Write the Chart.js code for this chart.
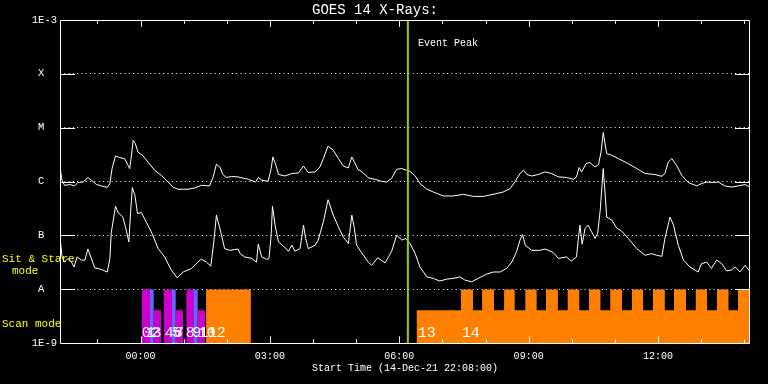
<!DOCTYPE html>
<html>
<head>
<meta charset="utf-8">
<title>GOES 14 X-Rays</title>
<script src="https://cdn.jsdelivr.net/npm/chart.js@4.4.1/dist/chart.umd.min.js"></script>
<style>
  html, body { margin: 0; padding: 0; background: #000; }
  canvas { display: block; background: #000; }
</style>
</head>
<body>
<canvas id="goesChart" width="768" height="384"></canvas>
<script>
// time axis is in hours from 00:00 on 15-Dec-21 (plot starts 22:08 on the 14th)
const xMin = -1.8667;
const xMax = 14.1333;
const yMin = 1e-9;
const yMax = 1e-3;

const decadeValues = [1e-9, 1e-8, 1e-7, 1e-6, 1e-5, 1e-4, 1e-3];
const decadeNames = ['1E-9', 'A', 'B', 'C', 'M', 'X', '1E-3'];

const timeLabelHours = [0, 3, 6, 9, 12];
const timeLabels = ['00:00', '03:00', '06:00', '09:00', '12:00'];

const eventPeak = 6.2;

// 1-8 A channel
const longTimes = [-1.85, -1.82, -1.76, -1.64, -1.53, -1.45, -1.33, -1.22, -1.14, -1.02, -0.91, -0.77, -0.71, -0.66, -0.58, -0.48, -0.37, -0.25, -0.20, -0.17, -0.12, -0.06, 0.06, 0.17, 0.33, 0.48, 0.64, 0.75, 0.87, 1.10, 1.26, 1.41, 1.60, 1.68, 1.76, 1.84, 1.91, 1.99, 2.11, 2.26, 2.35, 2.50, 2.67, 2.73, 2.81, 2.96, 3.03, 3.07, 3.14, 3.20, 3.35, 3.51, 3.66, 3.78, 3.89, 4.05, 4.16, 4.24, 4.35, 4.47, 4.59, 4.70, 4.82, 4.90, 4.96, 5.04, 5.17, 5.28, 5.44, 5.59, 5.71, 5.82, 5.94, 6.06, 6.17, 6.25, 6.37, 6.48, 6.64, 6.79, 7.02, 7.25, 7.49, 7.72, 7.95, 8.18, 8.41, 8.57, 8.68, 8.80, 8.88, 8.96, 9.07, 9.22, 9.38, 9.53, 9.69, 9.88, 10.04, 10.11, 10.17, 10.23, 10.33, 10.42, 10.54, 10.62, 10.68, 10.73, 10.81, 10.93, 11.08, 11.31, 11.51, 11.70, 11.93, 12.09, 12.16, 12.24, 12.32, 12.43, 12.55, 12.70, 12.90, 13.01, 13.13, 13.28, 13.40, 13.55, 13.71, 13.86, 14.02, 14.13];
const longFlux = [1.51e-6, 1.06e-6, 8.5e-7, 8.8e-7, 8.3e-7, 9.6e-7, 9.8e-7, 1.19e-6, 1.06e-6, 8.8e-7, 8.3e-7, 7.8e-7, 9.2e-7, 1.74e-6, 2.98e-6, 2.78e-6, 2.67e-6, 1.74e-6, 3.53e-6, 5.82e-6, 5.06e-6, 3.53e-6, 2.98e-6, 2.31e-6, 1.62e-6, 1.31e-6, 9.8e-7, 7.9e-7, 7.2e-7, 7.2e-7, 7.6e-7, 8.5e-7, 8.3e-7, 1.17e-6, 2.09e-6, 1.86e-6, 1.35e-6, 1.19e-6, 1.24e-6, 1.22e-6, 1.17e-6, 1.10e-6, 9.8e-7, 1.19e-6, 1.06e-6, 1.01e-6, 1.74e-6, 2.86e-6, 2.0e-6, 1.35e-6, 1.27e-6, 1.41e-6, 1.44e-6, 1.94e-6, 1.47e-6, 1.51e-6, 1.86e-6, 2.67e-6, 4.56e-6, 3.8e-6, 2.67e-6, 1.94e-6, 1.79e-6, 2.86e-6, 2.31e-6, 1.69e-6, 1.44e-6, 1.17e-6, 1.10e-6, 1.01e-6, 9.8e-7, 1.14e-6, 1.69e-6, 1.74e-6, 1.62e-6, 1.55e-6, 1.27e-6, 9.2e-7, 7.2e-7, 6.4e-7, 5.4e-7, 5.4e-7, 5.8e-7, 5.3e-7, 5.3e-7, 5.8e-7, 6.4e-7, 7.4e-7, 9.8e-7, 1.41e-6, 1.62e-6, 1.35e-6, 1.27e-6, 1.35e-6, 1.51e-6, 1.41e-6, 1.22e-6, 1.19e-6, 1.10e-6, 1.22e-6, 1.82e-6, 1.51e-6, 2.15e-6, 2.25e-6, 1.86e-6, 2.06e-6, 3.53e-6, 8.1e-6, 3.3e-6, 3.07e-6, 2.67e-6, 2.15e-6, 1.74e-6, 1.41e-6, 1.35e-6, 1.25e-6, 1.41e-6, 2.31e-6, 2.67e-6, 2.0e-6, 1.31e-6, 9.6e-7, 8.3e-7, 9.2e-7, 9.8e-7, 9.6e-7, 9.8e-7, 8.3e-7, 7.9e-7, 8.3e-7, 8.8e-7, 7.9e-7];

// 0.5-4 A channel
const shortTimes = [-1.85, -1.82, -1.76, -1.68, -1.60, -1.54, -1.47, -1.37, -1.29, -1.22, -1.14, -1.06, -0.91, -0.77, -0.71, -0.68, -0.58, -0.52, -0.41, -0.33, -0.27, -0.23, -0.19, -0.13, -0.07, 0.02, 0.13, 0.25, 0.41, 0.56, 0.71, 0.85, 0.99, 1.18, 1.33, 1.41, 1.53, 1.63, 1.70, 1.76, 1.87, 1.95, 2.07, 2.26, 2.31, 2.42, 2.58, 2.69, 2.73, 2.81, 2.93, 2.98, 3.03, 3.06, 3.12, 3.20, 3.31, 3.43, 3.51, 3.58, 3.70, 3.78, 3.83, 3.89, 4.05, 4.12, 4.24, 4.35, 4.47, 4.59, 4.70, 4.82, 4.90, 4.96, 5.01, 5.17, 5.28, 5.36, 5.50, 5.67, 5.82, 5.94, 6.06, 6.15, 6.25, 6.37, 6.48, 6.64, 6.79, 6.94, 7.10, 7.25, 7.41, 7.52, 7.68, 7.83, 8.03, 8.18, 8.34, 8.49, 8.61, 8.72, 8.80, 8.86, 8.92, 9.07, 9.26, 9.38, 9.57, 9.69, 9.88, 9.99, 10.11, 10.15, 10.19, 10.24, 10.31, 10.38, 10.46, 10.54, 10.60, 10.66, 10.73, 10.77, 10.81, 10.93, 11.04, 11.16, 11.31, 11.51, 11.70, 11.85, 11.97, 12.09, 12.16, 12.28, 12.36, 12.47, 12.59, 12.74, 12.93, 13.01, 13.13, 13.24, 13.36, 13.48, 13.59, 13.71, 13.79, 13.90, 14.02, 14.12];
const shortFlux = [7.1e-8, 4.0e-8, 3.2e-8, 3.75e-8, 3.2e-8, 2.6e-8, 4.0e-8, 3.5e-8, 3.5e-8, 5.6e-8, 3.75e-8, 2.5e-8, 2.35e-8, 2.1e-8, 3.75e-8, 1.09e-7, 3.5e-7, 2.67e-7, 2.2e-7, 1.25e-7, 7.6e-8, 2.7e-7, 7.7e-7, 5.6e-7, 2.55e-7, 2.67e-7, 1.79e-7, 1.17e-7, 5.7e-8, 4.0e-8, 2.3e-8, 1.64e-8, 2.1e-8, 2.45e-8, 3.2e-8, 3.65e-8, 3.2e-8, 2.7e-8, 7.6e-8, 2.38e-7, 1.09e-7, 5.7e-8, 5.3e-8, 5.6e-8, 4.6e-8, 4.0e-8, 3.75e-8, 3.2e-8, 6.9e-8, 4.0e-8, 3.6e-8, 3.75e-8, 1.01e-7, 3.5e-7, 1.55e-7, 7.6e-8, 6.4e-8, 5.1e-8, 6.6e-8, 5.1e-8, 5.7e-8, 1.55e-7, 8.8e-8, 5.7e-8, 6.6e-8, 8.2e-8, 1.79e-7, 4.6e-7, 2.38e-7, 1.44e-7, 9.4e-8, 7.1e-8, 2.38e-7, 1.35e-7, 6.6e-8, 4.3e-8, 3.2e-8, 2.8e-8, 3.85e-8, 3.1e-8, 5.0e-8, 1.01e-7, 8.2e-8, 8.8e-8, 7.1e-8, 4.6e-8, 2.6e-8, 1.71e-8, 1.6e-8, 1.43e-8, 1.55e-8, 1.6e-8, 1.71e-8, 1.49e-8, 1.38e-8, 1.6e-8, 1.92e-8, 2.1e-8, 2.1e-8, 2.45e-8, 3.2e-8, 5.0e-8, 8.2e-8, 1.04e-7, 6.6e-8, 5.3e-8, 5.3e-8, 5.6e-8, 4.85e-8, 3.75e-8, 4.0e-8, 3.35e-8, 4.0e-8, 8.2e-8, 1.55e-7, 6.9e-8, 1.35e-7, 1.55e-7, 1.17e-7, 8.8e-8, 1.09e-7, 2.94e-7, 1.74e-6, 6.4e-7, 2.2e-7, 1.92e-7, 1.38e-7, 1.2e-7, 8.8e-8, 5.7e-8, 4.3e-8, 4.6e-8, 4.3e-8, 4.1e-8, 8.8e-8, 2.2e-7, 1.55e-7, 6.6e-8, 3.5e-8, 2.6e-8, 2.1e-8, 3.0e-8, 3.2e-8, 2.45e-8, 3.5e-8, 3.0e-8, 2.2e-8, 2.3e-8, 2.6e-8, 2.1e-8, 2.8e-8, 2.2e-8];

// observation blocks at the bottom: start, end, top level, kind
const blockStart = [0.03, 0.22, 0.30, 0.54, 0.73, 0.81, 1.06, 1.23, 1.32, 1.52, 6.40, 7.43, 7.92, 8.43, 8.92, 9.40, 9.90, 10.40, 10.89, 11.39, 11.88, 12.37, 12.87, 13.36, 13.85];
const blockEnd = [0.24, 0.31, 0.48, 0.74, 0.82, 0.99, 1.24, 1.33, 1.50, 2.56, 14.39, 7.71, 8.20, 8.68, 9.19, 9.68, 10.18, 10.67, 11.17, 11.66, 12.16, 12.65, 13.14, 13.64, 14.13];
const blockTop = [1e-8, 1e-8, 4.1e-9, 1e-8, 1e-8, 4.1e-9, 1e-8, 1e-8, 4.1e-9, 1e-8, 4.1e-9, 1e-8, 1e-8, 1e-8, 1e-8, 1e-8, 1e-8, 1e-8, 1e-8, 1e-8, 1e-8, 1e-8, 1e-8, 1e-8, 1e-8];
const blockKind = ['m', 'b', 'm', 'm', 'b', 'm', 'm', 'b', 'm', 'o', 'o', 'o', 'o', 'o', 'o', 'o', 'o', 'o', 'o', 'o', 'o', 'o', 'o', 'o', 'o'];

const scanIds = ['0', '1', '2', '3', '4', '5', '6', '7', '8', '9', '10', '11', '12', '13', '14'];
const scanTimes = [0.03, 0.13, 0.24, 0.28, 0.56, 0.73, 0.77, 0.80, 1.05, 1.20, 1.33, 1.36, 1.56, 6.43, 7.45];

const kindColors = { m: '#cc00cc', b: '#6464ff', o: '#ff8000' };
const monoFont = 'Liberation Mono';

const hourTicks = [];
for (let h = -1; h <= 14; h++) hourTicks.push(h);

const zip = (xs, ys) => xs.map((x, i) => ({ x: x, y: ys[i] }));

const blockSets = blockStart.map((s, i) => ({
  data: [{ x: s, y: blockTop[i] }, { x: blockEnd[i], y: blockTop[i] }],
  borderWidth: 0,
  backgroundColor: kindColors[blockKind[i]],
  fill: { value: yMin },
  pointRadius: 0,
  order: 100 - i
}));

const decorations = {
  id: 'decorations',
  afterDatasetsDraw(chart) {
    const { ctx, chartArea: a, scales: { x, y } } = chart;
    ctx.save();
    ctx.strokeStyle = '#fff';
    ctx.lineWidth = 1;
    ctx.beginPath();
    // plot box
    ctx.rect(Math.round(a.left) + 0.5, Math.round(a.top) + 0.5, Math.round(a.right - a.left) - 1, Math.round(a.bottom - a.top) - 1);
    // inner tick marks on the flux axis
    decadeValues.slice(1, -1).forEach(v => {
      const py = Math.round(y.getPixelForValue(v)) + 0.5;
      ctx.moveTo(a.left, py); ctx.lineTo(a.left + 15, py);
      ctx.moveTo(a.right - 15, py); ctx.lineTo(a.right, py);
    });
    // inner tick marks on the time axis
    hourTicks.forEach(h => {
      const px = Math.round(x.getPixelForValue(h)) + 0.5;
      const len = h % 3 === 0 ? 7 : 4;
      ctx.moveTo(px, a.bottom); ctx.lineTo(px, a.bottom - len);
      ctx.moveTo(px, a.top); ctx.lineTo(px, a.top + len);
    });
    ctx.stroke();

    ctx.textBaseline = 'middle';
    ctx.textAlign = 'left';
    ctx.fillStyle = '#fff';
    ctx.font = '10px "' + monoFont + '"';
    ctx.fillText('Event Peak', x.getPixelForValue(eventPeak) + 10, 43);

    ctx.fillStyle = '#ffff00';
    ctx.font = '11px "' + monoFont + '"';
    ctx.fillText('Sit & Stare', 2, 259);
    ctx.fillText('mode', 12, 271);
    ctx.fillText('Scan mode', 2, 324);

    ctx.fillStyle = '#fff';
    ctx.font = '15px "' + monoFont + '"';
    scanIds.forEach((id, i) => {
      ctx.fillText(id, x.getPixelForValue(scanTimes[i]), 333);
    });
    ctx.restore();
  }
};

new Chart(document.getElementById('goesChart'), {
  type: 'line',
  data: {
    datasets: [
      {
        data: [{ x: eventPeak, y: yMin }, { x: eventPeak, y: yMax }],
        borderColor: '#9acd00',
        borderWidth: 2,
        pointRadius: 0,
        order: 0
      },
      {
        data: zip(longTimes, longFlux),
        borderColor: '#fff',
        borderWidth: 1,
        pointRadius: 0,
        tension: 0,
        order: 1
      },
      {
        data: zip(shortTimes, shortFlux),
        borderColor: '#fff',
        borderWidth: 1,
        pointRadius: 0,
        tension: 0,
        order: 1
      },
      ...blockSets
    ]
  },
  options: {
    responsive: false,
    animation: false,
    devicePixelRatio: 1,
    events: [],
    layout: { padding: { left: 0, right: 18, top: 0, bottom: 0 } },
    plugins: {
      legend: { display: false },
      tooltip: { enabled: false },
      title: {
        display: true,
        text: 'GOES 14 X-Rays:',
        color: '#fff',
        font: { family: monoFont, size: 14, weight: 'normal' },
        padding: { top: 2, bottom: 1 }
      }
    },
    scales: {
      x: {
        type: 'linear',
        min: xMin,
        max: xMax,
        afterBuildTicks: s => { s.ticks = hourTicks.map(v => ({ value: v })); },
        afterFit: s => { s.height = 40.7; },
        grid: { display: false, drawTicks: false },
        border: { display: false },
        ticks: {
          color: '#fff',
          font: { family: monoFont, size: 10 },
          padding: 7,
          autoSkip: false,
          maxRotation: 0,
          callback: v => {
            const i = timeLabelHours.indexOf(v);
            return i < 0 ? '' : timeLabels[i];
          }
        },
        title: {
          display: true,
          text: 'Start Time (14-Dec-21 22:08:00)',
          color: '#fff',
          font: { family: monoFont, size: 10 },
          padding: { top: 0, bottom: 10 }
        }
      },
      y: {
        type: 'logarithmic',
        min: yMin,
        max: yMax,
        afterBuildTicks: s => { s.ticks = decadeValues.map(v => ({ value: v })); },
        afterFit: s => { s.width = 60; },
        grid: {
          drawTicks: false,
          color: c => (c.tick && (c.tick.value === yMin || c.tick.value === yMax)) ? 'rgba(0,0,0,0)' : '#fff'
        },
        border: { display: false, dash: [1, 3.3] },
        ticks: {
          color: '#fff',
          font: { family: monoFont, size: 10.5 },
          padding: 3,
          callback: v => {
            const name = decadeNames[decadeValues.indexOf(v)] || '';
            return name.length === 1 ? name + '  ' : name;
          }
        }
      }
    }
  },
  plugins: [decorations]
});
</script>
</body>
</html>
